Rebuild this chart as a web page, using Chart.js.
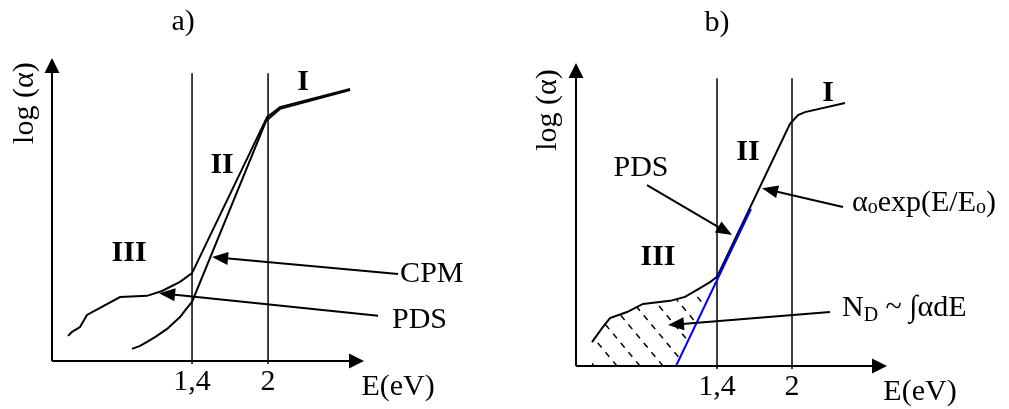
<!DOCTYPE html>
<html>
<head>
<meta charset="utf-8">
<script src="https://cdn.jsdelivr.net/npm/chart.js@4.4.1/dist/chart.umd.min.js"></script>
<style>
    html, body { margin: 0; padding: 0; background: #fff; }
    #wrap { position: relative; width: 1009px; height: 409px; }
    #wrap canvas { position: absolute; top: 0; }
</style>
</head>
<body>
<div id="wrap">
    <canvas id="chartA" width="505" height="409" style="left:0"></canvas>
    <canvas id="chartB" width="504" height="409" style="left:505px"></canvas>
</div>
<script>
// energy axis marks
const energyTicks = [1.4, 2];
const tickLabels = ["1,4", "2"];
const markerTop = 9.5;

// panel a) - CPM and PDS spectra (log alpha, arbitrary units)
const cpmEnergy = [0.421, 0.453, 0.516, 0.571, 0.674, 0.832, 1.045, 1.163, 1.305, 1.400, 1.992, 2.094, 2.647];
const cpmLogAlpha = [0.83, 0.96, 1.12, 1.52, 1.75, 2.11, 2.15, 2.31, 2.61, 2.90, 8.05, 8.38, 8.98];
const pdsEnergyA = [0.926, 0.990, 1.045, 1.108, 1.203, 1.305, 1.361, 1.400, 1.984, 2.094, 2.647];
const pdsLogAlphaA = [0.40, 0.50, 0.63, 0.79, 1.06, 1.45, 1.75, 1.95, 7.92, 8.32, 8.94];

// panel b) - PDS spectrum with Urbach fit
const pdsEnergyB = [0.400, 0.440, 0.488, 0.544, 0.680, 0.808, 1.024, 1.144, 1.264, 1.344, 1.400, 1.984, 2.048, 2.104, 2.424];
const pdsLogAlphaB = [0.79, 1.02, 1.29, 1.58, 1.78, 2.05, 2.15, 2.28, 2.57, 2.77, 2.94, 7.99, 8.28, 8.38, 8.68];
const fitEnergy = [1.072, 1.672];
const fitLogAlpha = [0, 5.18];

const serif = "'Liberation Serif', 'Times New Roman', serif";

function zip(xs, ys) {
    return xs.map((x, i) => ({ x: x, y: ys[i] }));
}

function curve(xs, ys, color, width) {
    return {
        data: zip(xs, ys),
        showLine: true,
        borderColor: color || "#000",
        borderWidth: width || 2,
        pointRadius: 0,
        tension: 0,
        clip: false
    };
}

function markerLines() {
    return energyTicks.map(e => curve([e, e], [-0.1, markerTop], "#000", 1.5));
}

function drawArrow(ctx, x1, y1, x2, y2, head, half) {
    const a = Math.atan2(y2 - y1, x2 - x1);
    const c = Math.cos(a), s = Math.sin(a);
    ctx.beginPath();
    ctx.moveTo(x1, y1);
    ctx.lineTo(x2 - head * c * 0.7, y2 - head * s * 0.7);
    ctx.stroke();
    ctx.beginPath();
    ctx.moveTo(x2, y2);
    ctx.lineTo(x2 - head * c + half * s, y2 - head * s - half * c);
    ctx.lineTo(x2 - head * c - half * s, y2 - head * s + half * c);
    ctx.closePath();
    ctx.fill();
}

function drawRich(ctx, parts, x, y) {
    let cx = x;
    parts.forEach(p => {
        ctx.font = p.sub ? "20px " + serif : "30px " + serif;
        ctx.fillText(p.t, cx, y + (p.sub ? p.dy : 0));
        cx += ctx.measureText(p.t).width;
    });
}

// draws axes, tick labels, titles, arrows, and the hatching
function schemePlugin(cfg) {
    return {
        id: "scheme",
        beforeDatasetsDraw(chart) {
            if (!cfg.hatch) return;
            const ctx = chart.ctx, xs = chart.scales.x, ys = chart.scales.y;
            const area = chart.chartArea;
            ctx.save();
            ctx.beginPath();
            const h = cfg.hatch;
            let first = true;
            h.xs.forEach((e, i) => {
                if (e > h.until) return;
                const px = xs.getPixelForValue(e), py = ys.getPixelForValue(h.ys[i]);
                if (first) { ctx.moveTo(px, py); first = false; } else ctx.lineTo(px, py);
            });
            ctx.lineTo(xs.getPixelForValue(h.bottom), ys.getPixelForValue(0));
            ctx.lineTo(xs.getPixelForValue(h.xs[0]), ys.getPixelForValue(0));
            ctx.closePath();
            ctx.clip();
            ctx.strokeStyle = "#000";
            ctx.lineWidth = 1.5;
            ctx.setLineDash([6, 6]);
            const base = area.bottom;
            for (let k = -2; k < 12; k++) {
                const bx = area.left + 41 + 23 * k;
                ctx.beginPath();
                ctx.moveTo(bx, base);
                ctx.lineTo(bx - 150 / 1.2, base - 150);
                ctx.stroke();
            }
            ctx.restore();
        },
        afterDatasetsDraw(chart) {
            const ctx = chart.ctx, xs = chart.scales.x, ys = chart.scales.y;
            const area = chart.chartArea;
            ctx.save();
            ctx.strokeStyle = "#000";
            ctx.fillStyle = "#000";
            ctx.lineWidth = 2;
            ctx.setLineDash([]);
            // axes with arrow heads
            drawArrow(ctx, area.left, area.bottom, area.right, area.bottom, 15, 7.5);
            drawArrow(ctx, area.left, area.bottom, area.left, area.top, 15, 7.5);

            ctx.textAlign = "center";
            ctx.textBaseline = "middle";
            ctx.font = "30px " + serif;
            energyTicks.forEach((e, i) => {
                ctx.fillText(tickLabels[i], xs.getPixelForValue(e), area.bottom + 21);
            });

            cfg.labels.forEach(l => {
                ctx.font = (l.bold ? "bold " : "") + "30px " + serif;
                ctx.textAlign = l.align || "center";
                const px = xs.getPixelForValue(l.x), py = ys.getPixelForValue(l.y);
                if (l.rich) {
                    ctx.textAlign = "left";
                    drawRich(ctx, l.rich, px, py);
                } else if (l.rotate) {
                    ctx.save();
                    ctx.translate(px, py);
                    ctx.rotate(-Math.PI / 2);
                    ctx.fillText(l.text, 0, 0);
                    ctx.restore();
                } else {
                    ctx.fillText(l.text, px, py);
                }
            });

            ctx.lineWidth = 2;
            cfg.arrows.forEach(a => {
                drawArrow(ctx,
                    xs.getPixelForValue(a[0]), ys.getPixelForValue(a[1]),
                    xs.getPixelForValue(a[2]), ys.getPixelForValue(a[3]), 16, 6.5);
            });
            ctx.restore();
        }
    };
}

function makeChart(id, datasets, xMin, xMax, padding, cfg) {
    return new Chart(document.getElementById(id), {
        type: "scatter",
        data: { datasets: datasets },
        options: {
            responsive: false,
            animation: false,
            events: [],
            layout: { padding: padding },
            plugins: { legend: { display: false }, tooltip: { enabled: false } },
            scales: {
                x: { type: "linear", min: xMin, max: xMax, display: false },
                y: { type: "linear", min: 0, max: 10, display: false }
            }
        },
        plugins: [schemePlugin(cfg)]
    });
}

makeChart("chartA",
    [curve(cpmEnergy, cpmLogAlpha), curve(pdsEnergyA, pdsLogAlphaA)].concat(markerLines()),
    0.295, 2.757,
    { left: 52, right: 141, top: 58, bottom: 48 },
    {
        labels: [
            { text: "a)", x: 1.329, y: 11.19 },
            { text: "log (\u03b1)", x: 0.082, y: 8.51, rotate: true },
            { text: "E(eV)", x: 3.026, y: -0.86 },
            { text: "I", x: 2.276, y: 9.21, bold: true },
            { text: "II", x: 1.637, y: 6.47, bold: true },
            { text: "III", x: 0.903, y: 3.56, bold: true },
            { text: "CPM", x: 3.042, y: 2.87, align: "left" },
            { text: "PDS", x: 2.978, y: 1.35, align: "left" }
        ],
        arrows: [
            [3.026, 2.87, 1.558, 3.43],
            [2.868, 1.49, 1.140, 2.24]
        ]
    });

makeChart("chartB",
    [curve(fitEnergy, fitLogAlpha, "#0000ff", 2), curve(pdsEnergyB, pdsLogAlphaB)].concat(markerLines()),
    0.272, 2.760,
    { left: 71, right: 122, top: 63, bottom: 43 },
    {
        hatch: { xs: pdsEnergyB, ys: pdsLogAlphaB, until: 1.4, bottom: fitEnergy[0] },
        labels: [
            { text: "b)", x: 1.400, y: 11.32 },
            { text: "log (\u03b1)", x: 0.048, y: 8.45, rotate: true },
            { text: "E(eV)", x: 3.024, y: -0.86 },
            { text: "I", x: 2.288, y: 9.01, bold: true },
            { text: "II", x: 1.648, y: 7.06, bold: true },
            { text: "III", x: 0.928, y: 3.60, bold: true },
            { text: "PDS", x: 0.792, y: 6.53 },
            { x: 2.480, y: 5.38, rich: [
                { t: "\u03b1" }, { t: "o", sub: true, dy: 5 }, { t: "exp(E/E" }, { t: "o", sub: true, dy: 5 }, { t: ")" }
            ] },
            { x: 2.400, y: 1.91, rich: [
                { t: "N" }, { t: "D", sub: true, dy: 8 }, { t: " ~ \u222b\u03b1dE" }
            ] }
        ],
        arrows: [
            [0.840, 5.97, 1.520, 4.32],
            [2.408, 5.25, 1.760, 5.87],
            [2.304, 1.78, 1.008, 1.35]
        ]
    });
</script>
</body>
</html>
